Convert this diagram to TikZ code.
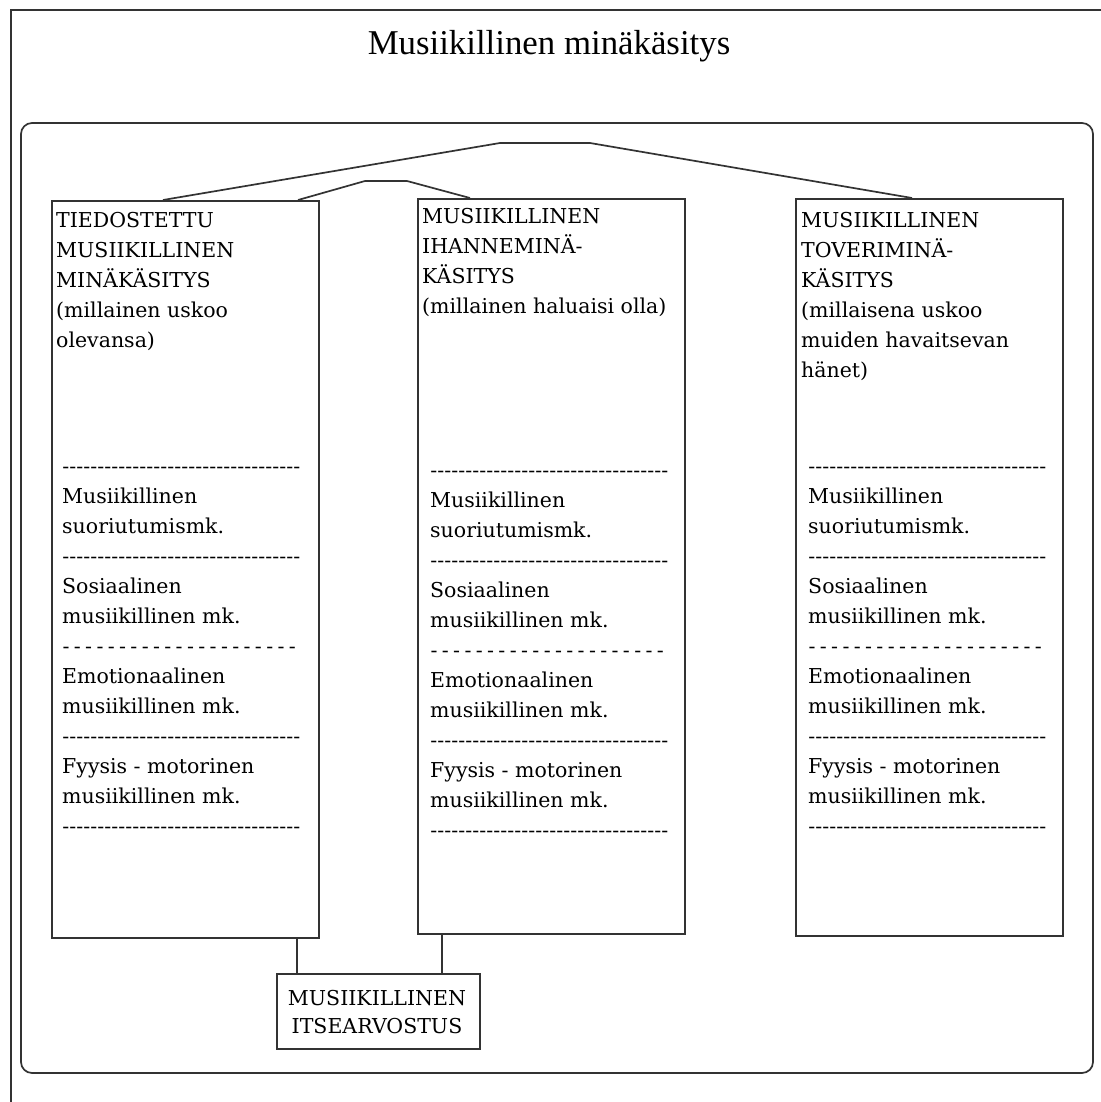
\documentclass[tikz,border=0pt]{standalone}
\usepackage{fontspec}
\setmainfont{Liberation Serif}
\newfontfamily\boxfont{DejaVu Serif}
\newcommand\dashrule{\hbox to 238pt{\xleaders\hbox{-}\hfill}}
\newcommand\spacedrule{\hbox to 238pt{\xleaders\hbox{-\hspace{4pt}}\hfill}}
\tikzset{
  ln/.style={draw=black!80, line width=1.7pt},
  colbox/.style={ln, anchor=north west, inner sep=0pt, minimum width=267pt},
  % anchor = baseline of the LAST line of the node
  boxtxt/.style={anchor=base west, inner sep=0pt, align=left,
    font=\boxfont\fontsize{20.5}{30}\selectfont},
  ctrtxt/.style={anchor=base, inner sep=0pt, align=center,
    font=\boxfont\fontsize{20.5}{28}\selectfont},
}
\begin{document}
\begin{tikzpicture}[x=1pt,y=-1pt]
\useasboundingbox (0,0) rectangle (1100,1102);
% outer frame and inner panel
\draw[ln] (11,10) rectangle (1120,1120);
\draw[ln, rounded corners=11pt] (21,123) rectangle (1093,1073);
% title
\node[anchor=base, inner sep=0pt, font=\fontsize{34.8}{40}\selectfont] (title) at (549,55) {Musiikillinen minäkäsitys};
% column boxes
\node[colbox, minimum height=737pt] (b1) at (51,200) {};
\node[colbox, minimum height=735pt] (b2) at (417,198) {};
\node[colbox, minimum height=737pt] (b3) at (795,198) {};
\node[ln, anchor=north west, inner sep=0pt, minimum width=203pt, minimum height=75pt] (b4) at (276,973) {};
% headings (positioned by last baseline)
\node[boxtxt] (h1) at (56,347) {TIEDOSTETTU\\MUSIIKILLINEN\\MINÄKÄSITYS\\(millainen uskoo\\olevansa)};
\node[boxtxt] (h2) at (422,313) {MUSIIKILLINEN\\IHANNEMINÄ-\\KÄSITYS\\(millainen haluaisi olla)};
\node[boxtxt] (h3) at (801,377) {MUSIIKILLINEN\\TOVERIMINÄ-\\KÄSITYS\\(millaisena uskoo\\muiden havaitsevan\\hänet)};
% lists
\node[boxtxt] (l1) at (62,833) {\dashrule\\Musiikillinen\\suoriutumismk.\\\dashrule\\Sosiaalinen\\musiikillinen mk.\\\spacedrule\\Emotionaalinen\\musiikillinen mk.\\\dashrule\\Fyysis - motorinen\\musiikillinen mk.\\\dashrule};
\node[boxtxt] (l2) at (430,837) {\dashrule\\Musiikillinen\\suoriutumismk.\\\dashrule\\Sosiaalinen\\musiikillinen mk.\\\spacedrule\\Emotionaalinen\\musiikillinen mk.\\\dashrule\\Fyysis - motorinen\\musiikillinen mk.\\\dashrule};
\node[boxtxt] (l3) at (808,833) {\dashrule\\Musiikillinen\\suoriutumismk.\\\dashrule\\Sosiaalinen\\musiikillinen mk.\\\spacedrule\\Emotionaalinen\\musiikillinen mk.\\\dashrule\\Fyysis - motorinen\\musiikillinen mk.\\\dashrule};
% self-esteem box text
\node[ctrtxt] (t4) at (377,1033) {MUSIIKILLINEN\\ITSEARVOSTUS};
% connectors
\draw[ln] ([xshift=112pt]b1.north west) -- ++(337,-57) -- ++(90,0) -- ([xshift=117pt]b3.north west);
\draw[ln] ([xshift=247pt]b1.north west) -- ++(67,-19) -- ++(42,0) -- ([xshift=53pt]b2.north west);
\draw[ln] ([xshift=246pt]b1.south west) -- ([xshift=246pt]b1.south west |- b4.north);
\draw[ln] ([xshift=25pt]b2.south west) -- ([xshift=25pt]b2.south west |- b4.north);
\end{tikzpicture}
\end{document}
